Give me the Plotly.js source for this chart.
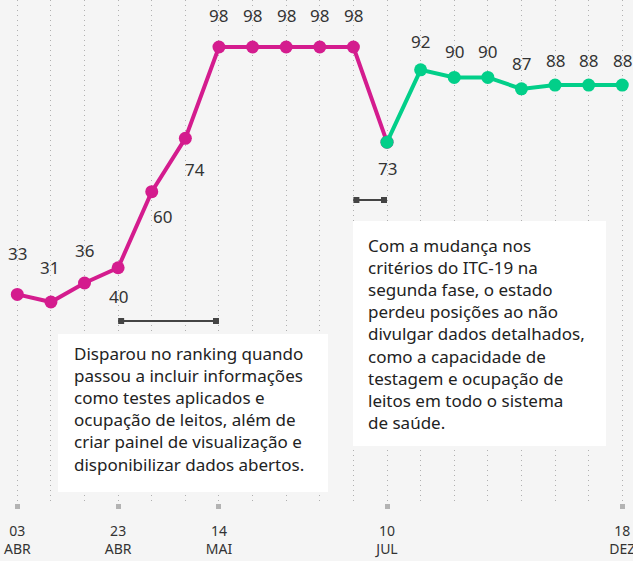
<!DOCTYPE html>
<html>
<head>
<meta charset="utf-8">
<script src="https://cdn.plot.ly/plotly-3.0.1.min.js"></script>
<style>
html,body{margin:0;padding:0;background:#f5f5f5;}
#chart{width:633px;height:561px;}
</style>
</head>
<body>
<div id="chart"></div>
<script>
// ---- data ----
const ranking = [33, 31, 36, 40, 60, 74, 98, 98, 98, 98, 98, 73, 92, 90, 90, 87, 88, 88, 88];
const weekIndex = ranking.map((_, i) => i);
const phaseBreak = 11; // first point of the second phase
const tickPositions = [0, 3, 6, 11, 18];
const tickLabels = ["03<br>ABR", "23<br>ABR", "14<br>MAI", "10<br>JUL", "18<br>DEZ"];
const note1 = "Disparou no ranking quando<br>passou a incluir informações<br>como testes aplicados e<br>ocupação de leitos, além de<br>criar painel de visualização e<br>disponibilizar dados abertos.";
const note2 = "Com a mudança nos<br>critérios do ITC-19 na<br>segunda fase, o estado<br>perdeu posições ao não<br>divulgar dados detalhados,<br>como a capacidade de<br>testagem e ocupação de<br>leitos em todo o sistema<br>de saúde.";
const span1 = [3, 6];
const span2 = [10, 11];

// ---- style / placement ----
const W = 633, H = 561, plotH = 503;
const FONT = "Noto Sans, Open Sans, sans-serif";
const MAGENTA = "#d41c8e";
const GREEN = "#02cf89";
const TXT = "#333333";
const labelShift = [
  [0, 41], [-1, 35], [0, 32], [0, -29], [11, -25], [10, -31],
  [0, 32], [0, 32], [0, 32], [0, 32], [0, 32],
  [0, -26], [0, 28], [0, 26], [0, 26], [0, 25], [0, 25], [0, 25], [0, 25]
];
const px = x => x / W;
const py = y => 1 - y / plotH;

const traces = [
  {
    x: weekIndex.slice(0, phaseBreak + 1),
    y: ranking.slice(0, phaseBreak + 1),
    mode: "lines+markers",
    line: {color: MAGENTA, width: 4},
    marker: {color: MAGENTA, size: 13},
    hoverinfo: "skip", showlegend: false, cliponaxis: false
  },
  {
    x: weekIndex.slice(phaseBreak),
    y: ranking.slice(phaseBreak),
    mode: "lines+markers",
    line: {color: GREEN, width: 4},
    marker: {color: GREEN, size: 13},
    hoverinfo: "skip", showlegend: false, cliponaxis: false
  }
];

const annotations = ranking.map((v, i) => ({
  x: i, y: v, xref: "x", yref: "y", text: String(v), showarrow: false,
  xanchor: "center", yanchor: "middle",
  xshift: labelShift[i][0], yshift: labelShift[i][1],
  font: {family: FONT, size: 17, color: TXT}
}));

annotations.push({
  xref: "paper", yref: "paper", x: px(72), y: py(409), xanchor: "left", yanchor: "middle",
  text: note1, align: "left", showarrow: false,
  font: {family: FONT, size: 17, color: "#222"}
});
annotations.push({
  xref: "paper", yref: "paper", x: px(366), y: py(333.5), xanchor: "left", yanchor: "middle",
  text: note2, align: "left", showarrow: false,
  font: {family: FONT, size: 17, color: "#222"}
});

function spanShapes(span, yPix) {
  const yp = py(yPix);
  const c = "#444444";
  return [
    {type: "line", xref: "x", yref: "paper", x0: span[0], x1: span[1], y0: yp, y1: yp,
     line: {color: c, width: 2}, layer: "above"},
    {type: "rect", xref: "x", yref: "paper", xsizemode: "pixel", ysizemode: "pixel",
     xanchor: span[0], yanchor: yp, x0: 0, x1: 6, y0: -3, y1: 3,
     fillcolor: c, line: {width: 0}, layer: "above"},
    {type: "rect", xref: "x", yref: "paper", xsizemode: "pixel", ysizemode: "pixel",
     xanchor: span[1], yanchor: yp, x0: -6, x1: 0, y0: -3, y1: 3,
     fillcolor: c, line: {width: 0}, layer: "above"}
  ];
}

const shapes = [
  {type: "rect", xref: "paper", yref: "paper", x0: px(58), x1: px(328), y0: py(492), y1: py(334),
   fillcolor: "#ffffff", line: {width: 0}, layer: "above"},
  {type: "rect", xref: "paper", yref: "paper", x0: px(353), x1: px(606), y0: py(446), y1: py(221),
   fillcolor: "#ffffff", line: {width: 0}, layer: "above"},
  ...spanShapes(span1, 321),
  ...spanShapes(span2, 200)
];

const layout = {
  width: W, height: H,
  margin: {l: 0, r: 0, t: 0, b: H - plotH},
  paper_bgcolor: "#f5f5f5", plot_bgcolor: "#f5f5f5",
  font: {family: FONT, color: TXT},
  xaxis: {
    range: [-0.515, 18.319],
    tickmode: "array", tickvals: tickPositions, ticktext: tickLabels,
    ticks: "outside", ticklen: 5, tickwidth: 5, tickcolor: "#b3b3b3",
    tickfont: {family: FONT, size: 14, color: TXT},
    ticklabelstandoff: 10, ticklabeloverflow: "allow",
    showgrid: true, gridcolor: "#b0b0b0", gridwidth: 1, griddash: "1px,4px",
    minor: {tickmode: "array", tickvals: weekIndex, showgrid: true, gridcolor: "#b0b0b0",
            gridwidth: 1, griddash: "1px,4px", ticks: ""},
    showline: false, zeroline: false, fixedrange: true
  },
  yaxis: {
    range: [-21.81, 110.35], showgrid: false, zeroline: false, showticklabels: false,
    showline: false, ticks: "", fixedrange: true
  },
  annotations: annotations,
  shapes: shapes,
  showlegend: false
};

Plotly.newPlot("chart", traces, layout, {displayModeBar: false, staticPlot: true});
</script>
</body>
</html>
